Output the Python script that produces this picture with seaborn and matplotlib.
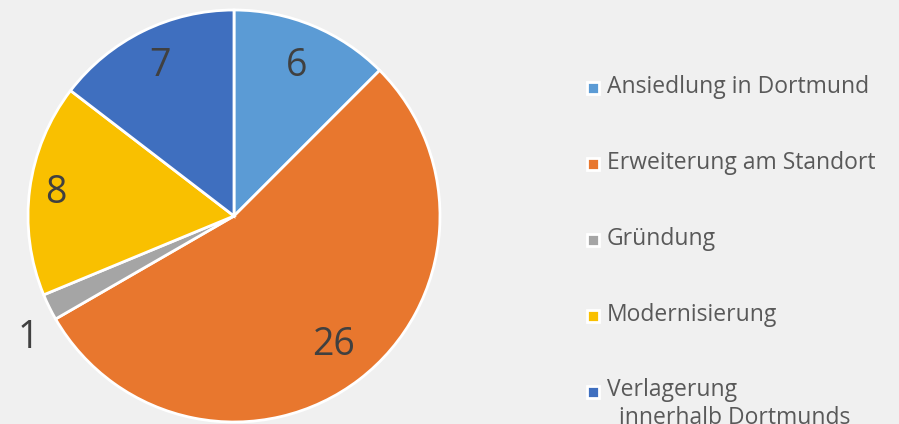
import matplotlib
matplotlib.use('Agg')
import matplotlib.pyplot as plt
import seaborn as sns
import numpy as np
from matplotlib.patches import Rectangle

# data
categories = ['Ansiedlung in Dortmund', 'Erweiterung am Standort', 'Gründung',
              'Modernisierung', 'Verlagerung\n  innerhalb Dortmunds']
values = [6, 26, 1, 8, 7]
colors = ['#5B9BD5', '#E8772E', '#A5A5A5', '#F9C000', '#3F6FBF']

# label placement per slice (fraction of radius, angle shift), like Excel's best fit
label_dist = [0.79, 0.79, 1.16, 0.87, 0.81]
label_shift = [0, 0, 4.5, 0, 0]

sns.set_theme(style='white')
plt.rcParams['font.family'] = ['Open Sans', 'DejaVu Sans']

bg = '#F0F0F0'
fig = plt.figure(figsize=(8.99, 4.24), dpi=100, facecolor=bg)
ax = fig.add_axes([0, 0, 1, 1])
ax.set_facecolor(bg)

R = 206
cx, cy = 234, 424 - 216
wedges, _ = ax.pie(values, colors=colors, startangle=90, counterclock=False,
                   radius=R, center=(cx, cy),
                   wedgeprops=dict(edgecolor='white', linewidth=2))
ax.set_xlim(0, 899)
ax.set_ylim(0, 424)
ax.set_aspect('equal')
ax.axis('off')

# value labels
for w, v, d, s in zip(wedges, values, label_dist, label_shift):
    ang = np.deg2rad((w.theta1 + w.theta2) / 2 + s)
    ax.text(cx + d * R * np.cos(ang), cy + d * R * np.sin(ang), str(v),
            ha='center', va='center', fontsize=27, color='#404040')

# legend
for i, (lab, c) in enumerate(zip(categories, colors)):
    y = 424 - (88 + 76 * i)
    ax.add_patch(Rectangle((587, y - 6), 12, 12, facecolor=c,
                           edgecolor='white', linewidth=2))
    if '\n' in lab:
        ax.text(607, y + 14, lab, ha='left', va='top',
                fontsize=16.5, color='#595959', linespacing=1.2)
    else:
        ax.text(607, y + 1, lab, ha='left', va='center',
                fontsize=16.5, color='#595959')

fig.savefig('out.png', dpi=100, facecolor=bg)
